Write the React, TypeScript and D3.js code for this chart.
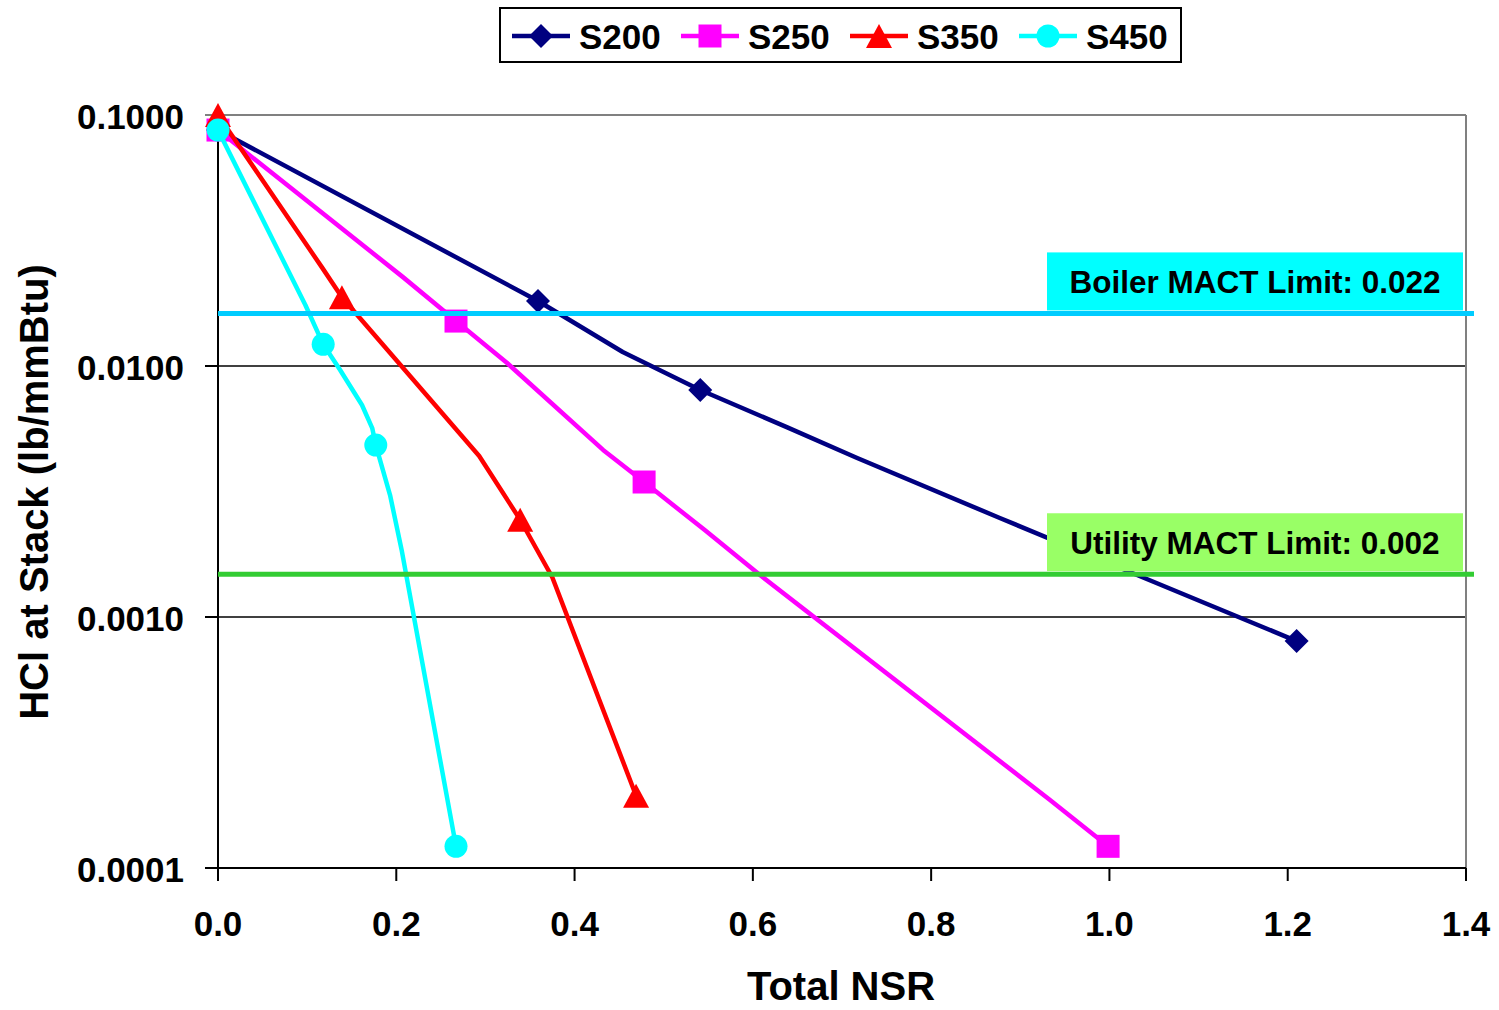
import React from "react";
import * as d3 from "d3";

// ---------- data ----------
const seriesNames = ["S200", "S250", "S350", "S450"];
const seriesColors = ["#000080", "#FF00FF", "#FF0000", "#00FFFF"];
const seriesMarkers = ["diamond", "square", "triangle", "circle"];

const s200Line: [number, number][] = [
  [0, 0.0871], [0.359, 0.01815], [0.454, 0.01137], [0.541, 0.00802], [0.638, 0.00571],
  [0.717, 0.0043], [0.877, 0.00248], [1.031, 0.00147], [1.21, 0.000802],
];
const s200MarkerIdx = [0, 1, 3, 8];

const s250Line: [number, number][] = [
  [0, 0.0871], [0.2075, 0.0226], [0.267, 0.0151], [0.324, 0.0103],
  [0.432, 0.00463], [0.478, 0.00345], [0.546, 0.00222], [0.608, 0.00147], [0.933, 0.000187],
  [0.9985, 0.000122],
];
const s250MarkerIdx = [0, 2, 5, 9];

const s350Line: [number, number][] = [
  [0, 0.1], [0.117, 0.0246], [0.139, 0.0188], [0.293, 0.00438], [0.339, 0.00244],
  [0.375, 0.00144], [0.469, 0.000194],
];
const s350MarkerIdx = [0, 2, 4, 6];

const s450Line: [number, number][] = [
  [0, 0.0871], [0.098, 0.0175], [0.118, 0.0122], [0.137, 0.00964],
  [0.1615, 0.00699], [0.173, 0.00566], [0.177, 0.00484], [0.193, 0.00306], [0.206, 0.00185],
  [0.267, 0.000122],
];
const s450MarkerIdx = [0, 2, 6, 9];

const seriesLines = [s200Line, s250Line, s350Line, s450Line];
const seriesMarkerIdx = [s200MarkerIdx, s250MarkerIdx, s350MarkerIdx, s450MarkerIdx];

const xTicks = [0, 0.2, 0.4, 0.6, 0.8, 1.0, 1.2, 1.4];
const xTickLabels = ["0.0", "0.2", "0.4", "0.6", "0.8", "1.0", "1.2", "1.4"];
const yTicks = [0.1, 0.01, 0.001, 0.0001];
const yTickLabels = ["0.1000", "0.0100", "0.0010", "0.0001"];

const limitNames = ["Boiler MACT Limit: 0.022", "Utility MACT Limit: 0.002"];
const limitDrawnValues = [0.0162, 0.00148];
const limitLineColors = ["#00CCFF", "#33CC33"];
const limitBoxColors = ["#00FFFF", "#99FF66"];

const xTitle = "Total NSR";
const yTitle = "HCl at Stack (lb/mmBtu)";

// ---------- layout ----------
const W = 1499;
const H = 1010;
const plot = { left: 218, right: 1466, top: 115, bottom: 868 };
const FONT = "'Liberation Sans', Arial, sans-serif";

const x = d3.scaleLinear().domain([0, 1.4]).range([plot.left, plot.right]);
const y = d3.scaleLog().domain([0.0001, 0.1]).range([plot.bottom, plot.top]);

function markerPath(kind: string, cx: number, cy: number): string {
  if (kind === "diamond") {
    const r = 12;
    return `M${cx},${cy - r}L${cx + r},${cy}L${cx},${cy + r}L${cx - r},${cy}Z`;
  }
  if (kind === "square") {
    const r = 11.5;
    return `M${cx - r},${cy - r}H${cx + r}V${cy + r}H${cx - r}Z`;
  }
  if (kind === "triangle") {
    const w = 13, h = 12;
    return `M${cx},${cy - h}L${cx + w},${cy + h}L${cx - w},${cy + h}Z`;
  }
  const p = d3.path();
  p.arc(cx, cy, 11.5, 0, Math.PI * 2);
  return p.toString();
}

export default function App() {
  const line = d3
    .line<[number, number]>()
    .x((d) => x(d[0]))
    .y((d) => y(d[1]));

  return (
    <svg
      width={W}
      height={H}
      style={{ position: "absolute", left: 0, top: 0, background: "#fff" }}
      fontFamily={FONT}
      fontWeight="bold"
    >
      <rect x={0} y={0} width={W} height={H} fill="#fff" />

      {/* gridlines */}
      {yTicks.slice(1, 3).map((t) => (
        <line key={t} x1={plot.left} x2={plot.right} y1={y(t)} y2={y(t)} stroke="#000" strokeWidth={1.6} />
      ))}
      {/* frame top/right */}
      <line x1={plot.left - 13} x2={plot.right} y1={plot.top} y2={plot.top} stroke="#808080" strokeWidth={2} />
      <line x1={plot.right} x2={plot.right} y1={plot.top} y2={plot.bottom} stroke="#808080" strokeWidth={2} />

      {/* y ticks */}
      {yTicks.map((t, i) => (
        <g key={t}>
          <line x1={plot.left - 13} x2={plot.left} y1={y(t)} y2={y(t)} stroke={i === 0 ? "#808080" : "#000"} strokeWidth={2} />
          <text x={184} y={y(t) + 1} textAnchor="end" dominantBaseline="central" fontSize={35}>
            {yTickLabels[i]}
          </text>
        </g>
      ))}
      {/* x ticks */}
      {xTicks.map((t, i) => (
        <g key={t}>
          <line x1={x(t)} x2={x(t)} y1={plot.bottom} y2={plot.bottom + 13} stroke="#000" strokeWidth={2} />
          <text x={x(t)} y={936} textAnchor="middle" fontSize={35}>
            {xTickLabels[i]}
          </text>
        </g>
      ))}
      {/* axes */}
      <line x1={plot.left} x2={plot.left} y1={plot.top} y2={plot.bottom} stroke="#000" strokeWidth={2} />
      <line x1={plot.left - 13} x2={plot.right} y1={plot.bottom} y2={plot.bottom} stroke="#000" strokeWidth={2} />

      {/* series */}
      {seriesLines.map((pts, si) => (
        <g key={seriesNames[si]}>
          <path d={line(pts) || ""} fill="none" stroke={seriesColors[si]} strokeWidth={4.5} strokeLinejoin="round" />
          {seriesMarkerIdx[si].map((idx) => (
            <path key={idx} d={markerPath(seriesMarkers[si], x(pts[idx][0]), y(pts[idx][1]))} fill={seriesColors[si]} />
          ))}
        </g>
      ))}

      {/* limit lines and labels */}
      {limitDrawnValues.map((v, i) => {
        const ly = y(v);
        return (
          <g key={limitNames[i]}>
            <line x1={plot.left} x2={plot.right + 8} y1={ly} y2={ly} stroke={limitLineColors[i]} strokeWidth={5} />
            <rect x={1047} y={ly - 61} width={416} height={58} fill={limitBoxColors[i]} />
            <text x={1255} y={ly - 20} textAnchor="middle" fontSize={31.5}>
              {limitNames[i]}
            </text>
          </g>
        );
      })}

      {/* axis titles */}
      <text x={841} y={1000} textAnchor="middle" fontSize={40}>
        {xTitle}
      </text>
      <text transform={`translate(48,492) rotate(-90)`} textAnchor="middle" fontSize={40}>
        {yTitle}
      </text>

      {/* legend */}
      <rect x={500} y={8} width={681} height={54} fill="#fff" stroke="#000" strokeWidth={2} />
      {seriesNames.map((name, i) => {
        const sx = 512 + i * 169;
        return (
          <g key={name}>
            <line x1={sx} x2={sx + 58} y1={36} y2={36} stroke={seriesColors[i]} strokeWidth={4.5} />
            <path d={markerPath(seriesMarkers[i], sx + 29, 36)} fill={seriesColors[i]} />
            <text x={sx + 67} y={49} fontSize={35}>
              {name}
            </text>
          </g>
        );
      })}
    </svg>
  );
}
